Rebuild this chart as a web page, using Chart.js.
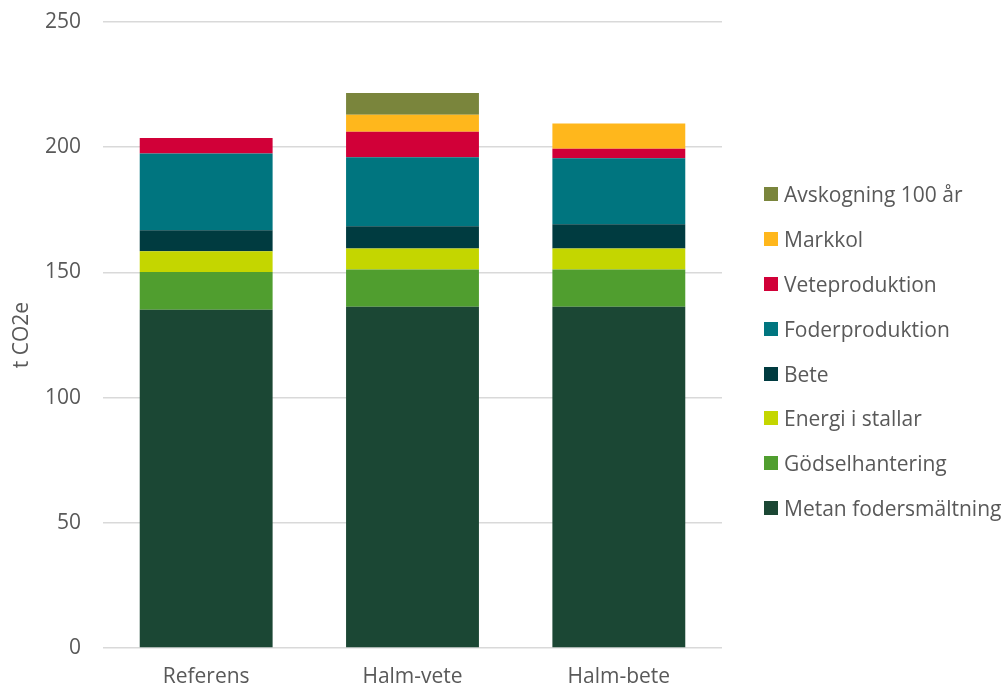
<!DOCTYPE html>
<html>
<head>
<meta charset="utf-8">
<script src="https://cdn.jsdelivr.net/npm/chart.js@4.4.0/dist/chart.umd.min.js"></script>
<style>
  html, body { margin: 0; padding: 0; background: #fff; }
  #wrap { position: relative; width: 1004px; height: 688px; }
  #legend { position: absolute; left: 764px; top: 172px; font-family: "Open Sans", sans-serif; font-size: 21px; color: #595959; }
  #legend .item { height: 44.8px; display: flex; align-items: center; white-space: nowrap; }
  #legend .box { width: 14px; height: 14px; margin-right: 6px; flex: none; }
</style>
</head>
<body>
<div id="wrap">
  <canvas id="chart"></canvas>
  <div id="legend"></div>
</div>
<script>
const categories = ['Referens', 'Halm-vete', 'Halm-bete'];

// t CO2e per post, nedifrån och upp i stapeln
const metanFodersmaltning = [135.1, 136.3, 136.3];
const godselhantering = [15.1, 14.9, 14.9];
const energiStallar = [8.2, 8.3, 8.3];
const bete = [8.4, 8.9, 9.7];
const foderproduktion = [30.7, 27.6, 26.4];
const veteproduktion = [6.2, 10.2, 3.8];
const markkol = [0, 6.8, 10.1];
const avskogning100 = [0, 8.6, 0];

const yTicks = [0, 50, 100, 150, 200, 250];

const series = [
    { label: 'Metan fodersmältning', data: metanFodersmaltning, color: '#1b4734' },
    { label: 'Gödselhantering', data: godselhantering, color: '#509e2f' },
    { label: 'Energi i stallar', data: energiStallar, color: '#c4d600' },
    { label: 'Bete', data: bete, color: '#003b40' },
    { label: 'Foderproduktion', data: foderproduktion, color: '#00757f' },
    { label: 'Veteproduktion', data: veteproduktion, color: '#d10038' },
    { label: 'Markkol', data: markkol, color: '#ffb71c' },
    { label: 'Avskogning 100 år', data: avskogning100, color: '#7a853c' }
];

const textColor = '#595959';
const font = { family: '"Open Sans", sans-serif', size: 21 };

const chart = new Chart(document.getElementById('chart'), {
    type: 'bar',
    data: {
        labels: categories,
        datasets: series.map(s => ({
            label: s.label,
            data: s.data,
            backgroundColor: s.color,
            borderWidth: 0,
            categoryPercentage: 1,
            barPercentage: 0.644
        }))
    },
    options: {
        responsive: true,
        maintainAspectRatio: false,
        animation: false,
        layout: {
            padding: { left: 0, right: 282, top: 22, bottom: 0 }
        },
        plugins: {
            legend: { display: false },
            tooltip: { enabled: false }
        },
        scales: {
            x: {
                stacked: true,
                grid: { display: false, drawTicks: false },
                border: { display: false },
                ticks: { color: textColor, font: { ...font, lineHeight: 1 }, padding: 19 },
                afterFit: axis => { axis.height = 40; }
            },
            y: {
                stacked: true,
                min: 0,
                max: 250,
                afterBuildTicks: axis => { axis.ticks = yTicks.map(v => ({ value: v })); },
                afterFit: axis => {
                    axis.width = 103;
                    axis.paddingTop = 0;
                    axis.paddingBottom = 0;
                },
                grid: { color: '#d9d9d9', lineWidth: 1.5, drawTicks: false },
                border: { display: false },
                ticks: { color: textColor, font: font, padding: 22 },
                title: {
                    display: true,
                    text: 't CO2e',
                    color: textColor,
                    font: font,
                    padding: { top: 9, bottom: 10 }
                }
            }
        }
    }
});

// legend i omvänd ordning, som i originalet
const legendEl = document.getElementById('legend');
series.slice().reverse().forEach(s => {
    const item = document.createElement('div');
    item.className = 'item';
    const box = document.createElement('span');
    box.className = 'box';
    box.style.background = s.color;
    const txt = document.createElement('span');
    txt.textContent = s.label;
    item.appendChild(box);
    item.appendChild(txt);
    legendEl.appendChild(item);
});
</script>
</body>
</html>
